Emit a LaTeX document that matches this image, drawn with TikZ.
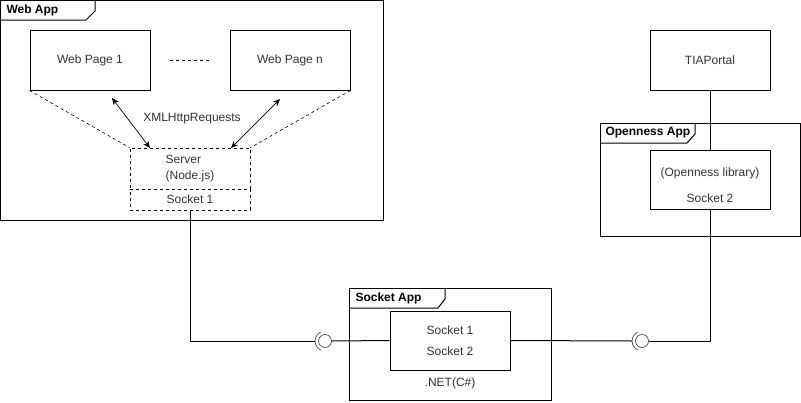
\documentclass[tikz,border=0pt]{standalone}
\usepackage{fontspec}
\setmainfont{Liberation Sans}
\usetikzlibrary{positioning,arrows.meta,calc}

\begin{document}
\begin{tikzpicture}[
  x=1pt, y=-1pt,
  line width=1pt,
  box/.style={draw, minimum width=120pt, minimum height=60pt, inner sep=0pt,
    text=black!80, font=\fontsize{12}{14}\selectfont, align=center},
  dbox/.style={box, dashed, dash pattern=on 3pt off 3pt, line width=0.8pt},
  frame/.style={draw, line width=1pt},
  tab/.style={anchor=west, inner sep=0pt, font=\bfseries\fontsize{12}{14}\selectfont},
  lab/.style={inner sep=0pt, text=black!80, font=\fontsize{12}{14}\selectfont, align=center},
  req/.style={{Stealth[length=7pt,width=6pt]}-{Stealth[length=7pt,width=6pt]}, line width=0.7pt},
  ball/.style={draw, circle, minimum size=13pt, inner sep=0pt, line width=0.7pt, draw=black!70},
  cup/.style={line width=0.7pt, draw=black!70}
]
  \useasboundingbox (0,0) rectangle (801,402);

  % --- frames ------------------------------------------------------------
  \draw[frame] (0.5,0.5) rectangle (383,220);
  \draw[frame] (0.5,20) -- (86,20) -- (95,11) -- (95,0.5);
  \node[tab] (webapp) at (6,10) {Web App};

  \draw[frame] (600,123) rectangle (800.5,236);
  \draw[frame] (600,143) -- (687,143) -- (695,134) -- (695,123);
  \node[tab] (ossapp) at (605,133) {Openness App};

  \draw[frame] (349,288) rectangle (551,400);
  \draw[frame] (349,308) -- (438,308) -- (445,299) -- (445,288);
  \node[tab] (sockapp) at (355,298) {Socket App};

  % --- web pages and server ------------------------------------------------
  \node[box] (page1) at (90,60) {Web Page 1};
  \node[box] (pagen) at (290,60) {Web Page n};
  \coordinate (dots1) at (170,60);
  \coordinate (dots2) at (210,60);
  \draw[dashed, dash pattern=on 3pt off 3pt, line width=0.8pt] (dots1) -- (dots2);

  \node[dbox, minimum height=41pt, align=left] (server) at (190,168.5)
    {Server\\[2pt](Node.js)};
  \node[dbox, minimum height=21pt] (sock1) at (190,199.5) {Socket 1};

  \draw[dashed, dash pattern=on 3pt off 3pt, line width=0.6pt] (page1.south west) -- (server.north west);
  \draw[dashed, dash pattern=on 3pt off 3pt, line width=0.6pt] (pagen.south east) -- (server.north east);

  \coordinate (req1a) at (112,98);
  \coordinate (req1b) at (150,148);
  \coordinate (reqna) at (280,99);
  \coordinate (reqnb) at (231,148);
  \draw[req] (req1a) -- (req1b);
  \draw[req] (reqna) -- (reqnb);
  \node[lab] (xhr) at (192,119) {XMLHttpRequests};

  % --- TIA Portal and Openness --------------------------------------------
  \node[box] (tia) at (710,60) {TIAPortal};
  \node[box, minimum height=59pt] (olib) at (710,179.5) {};
  \node[lab] (olibtxt) at (710,173) {(Openness library)};
  \node[lab] (osock2) at (710,198) {Socket 2};
  \draw (tia.south) -- (olib.north);

  % --- socket app -----------------------------------------------------------
  \node[box, minimum height=59pt] (sockets) at (450,340.5) {Socket 1\\[7pt]Socket 2};
  \node[lab] (dotnet) at (450,383) {.NET(C\#)};

  % --- lollipops --------------------------------------------------------------
  \node[ball] (ballL) at (325,341) {};
  \node[ball] (ballR) at (642,341) {};
  \draw[cup] ([shift={(115:10)}]ballL.center) arc[start angle=115, end angle=245, radius=10];
  \draw[cup] ([shift={(115:10)}]ballR.center) arc[start angle=115, end angle=245, radius=10];
  \coordinate (cupL) at (315,341);
  \coordinate (cupR) at (632,341);

  % --- connectors -------------------------------------------------------------
  \draw (sock1.south) |- (cupL);
  \draw (ballL.east) -- (sockets.west);
  \draw (sockets.east) -- (cupR);
  \draw (ballR.east) -| (olib.south);
\end{tikzpicture}
\end{document}
